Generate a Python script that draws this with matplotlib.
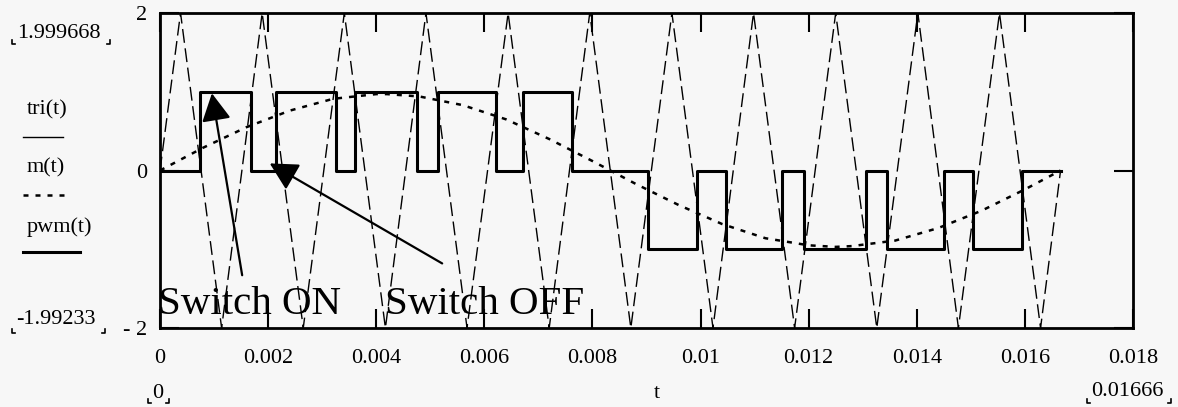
import matplotlib
matplotlib.use("Agg")
import matplotlib.pyplot as plt
from matplotlib.lines import Line2D
from matplotlib.patches import ArrowStyle

plt.rcParams['font.family'] = ['Liberation Serif', 'DejaVu Sans']

# triangle carrier tri(t): vertices
tri_t = [0, 0.00038, 0.00114, 0.00189, 0.00265, 0.00341, 0.00417, 0.00492,
         0.00568, 0.00644, 0.00720, 0.00795, 0.00871, 0.00947, 0.01023,
         0.01098, 0.01174, 0.01250, 0.01326, 0.01402, 0.01477, 0.01553,
         0.01629, 0.01666]
tri_v = [0, 2, -2, 2, -2, 2, -2, 2, -2, 2, -2, 2,
         -2, 2, -2, 2, -2, 2, -2, 2, -2, 2, -2, 0]

# modulating signal m(t), read at intervals
m_t = [0, 0.0008, 0.0016, 0.0024, 0.0032, 0.0040, 0.0042, 0.0048, 0.0056,
       0.0064, 0.0072, 0.0080, 0.0088, 0.0096, 0.0104, 0.0112, 0.0120,
       0.0125, 0.0128, 0.0136, 0.0144, 0.0152, 0.0160, 0.01666]
m_v = [0, 0.29, 0.55, 0.76, 0.91, 0.97, 0.97, 0.94, 0.83,
       0.65, 0.40, 0.12, -0.17, -0.44, -0.68, -0.86, -0.95,
       -0.97, -0.96, -0.89, -0.73, -0.51, -0.24, 0]

# pwm(t): switching instants and level after each instant
pwm_t = [0, 0.00074, 0.00168, 0.00215, 0.00326, 0.00361, 0.00475, 0.00514,
         0.00622, 0.00671, 0.00762, 0.00903, 0.00993, 0.01047, 0.01151,
         0.01191, 0.01306, 0.01345, 0.01450, 0.01504, 0.01595, 0.01666]
pwm_v = [0, 1, 0, 1, 0, 1, 0, 1, 0, 1, 0, -1, 0, -1, 0, -1, 0, -1, 0, -1, 0, 0]

x_ticks = [0, 0.002, 0.004, 0.006, 0.008, 0.01, 0.012, 0.014, 0.016, 0.018]
x_ticklabels = ['0', '0.002', '0.004', '0.006', '0.008', '0.01', '0.012',
                '0.014', '0.016', '0.018']
y_ticks = [-2, 0, 2]
y_ticklabels = ['- 2', '0', '2']

W, H = 1178, 407
BG = '#f7f7f7'


def fx(px):
    return px / W


def fy(py):
    return 1 - py / H


def corner_marks(fig, x_left, x_right, y):
    # small Mathcad-style range brackets below a readout
    for xs, ys in (([x_left, x_left, x_left + 3], [y - 4, y, y]),
                   ([x_right - 3, x_right, x_right], [y, y, y - 4])):
        fig.add_artist(Line2D([fx(v) for v in xs], [fy(v) for v in ys],
                              color='black', lw=1.2))


fig = plt.figure(figsize=(W / 100, H / 100), dpi=100)
fig.patch.set_facecolor(BG)
ax = fig.add_axes([fx(160), fy(328), 973 / W, 315 / H])
ax.set_facecolor(BG)

ax.plot(tri_t, tri_v, color='black', lw=1.0, ls=(0, (10, 4)))
ax.plot(m_t, m_v, color='black', lw=1.8, ls=(0, (2, 2.8)))
ax.step(pwm_t, pwm_v, where='post', color='black', lw=2.2)

ax.set_xlim(0, 0.018)
ax.set_ylim(-2, 2)
ax.set_xticks(x_ticks)
ax.set_xticklabels(x_ticklabels)
ax.set_yticks(y_ticks)
ax.set_yticklabels(y_ticklabels)
ax.tick_params(axis='both', direction='in', length=14, width=1.5,
               labelsize=16, top=True, right=True)
ax.tick_params(axis='x', pad=15)
ax.tick_params(axis='y', pad=9)
for s in ax.spines.values():
    s.set_linewidth(2)

# annotations
head = ArrowStyle('-|>', head_length=0.85, head_width=0.45)
ax.annotate('', xy=(0.00096, 0.98), xytext=(0.00152, -1.33),
            arrowprops=dict(arrowstyle=head, mutation_scale=20, lw=1.6,
                            color='black', shrinkA=0, shrinkB=0))
ax.annotate('', xy=(0.00203, 0.09), xytext=(0.00522, -1.18),
            arrowprops=dict(arrowstyle=head, mutation_scale=20, lw=1.6,
                            color='black', shrinkA=0, shrinkB=0))
ax.text(-0.00004, -1.82, 'Switch ON', fontsize=29.5, va='baseline', ha='left')
ax.text(0.00416, -1.82, 'Switch OFF', fontsize=29.5, va='baseline', ha='left')

ax.text((657 - 160) / 973, -(393 - 328) / 315, 't', transform=ax.transAxes,
        fontsize=16, ha='center', va='center')

# legend on the left
fig.text(fx(27), fy(110), 'tri(t)', fontsize=16, ha='left', va='center')
fig.add_artist(Line2D([fx(23), fx(63)], [fy(137), fy(137)], color='black', lw=1.0))
fig.text(fx(27), fy(168), 'm(t)', fontsize=16, ha='left', va='center')
fig.add_artist(Line2D([fx(23), fx(70)], [fy(195), fy(195)], color='black',
                      lw=1.8, ls=(0, (2, 2.8))))
fig.text(fx(27), fy(227), 'pwm(t)', fontsize=16, ha='left', va='center')
fig.add_artist(Line2D([fx(23), fx(80)], [fy(252), fy(252)], color='black', lw=2.2))

# data range readouts
fig.text(fx(17), fy(33), '1.999668', fontsize=16, ha='left', va='center')
corner_marks(fig, 12, 110, 44)
fig.text(fx(16), fy(320), '-1.99233', fontsize=16, ha='left', va='center')
corner_marks(fig, 12, 105, 333)
fig.text(fx(158), fy(393), '0', fontsize=16, ha='center', va='center')
corner_marks(fig, 148, 169, 403)
fig.text(fx(1127), fy(392), '0.01666', fontsize=16, ha='center', va='center')
corner_marks(fig, 1087, 1171, 403)

fig.savefig('out.png', dpi=100, facecolor=BG)
